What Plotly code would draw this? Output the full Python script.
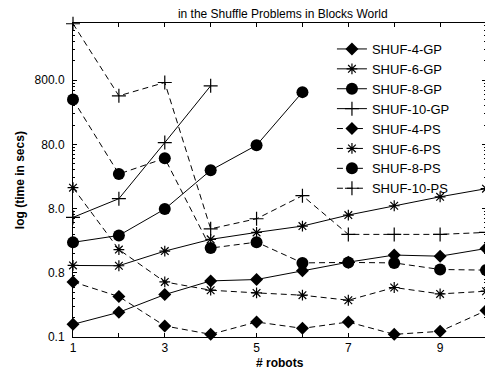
import plotly.graph_objects as go

robots = [1, 2, 3, 4, 5, 6, 7, 8, 9, 10]

shuf4_gp = [0.126, 0.194, 0.366, 0.598, 0.628, 0.857, 1.17, 1.51, 1.45, 1.91]
shuf6_gp = [1.04, 1.03, 1.74, 2.65, 3.40, 4.27, 6.34, 8.85, 12.2, 16.3]
shuf8_gp = [2.38, 3.05, 7.86, 31.5, 77.4, 520]
shuf10_gp = [5.83, 11.4, 85.1, 652]
shuf4_ps = [0.577, 0.341, 0.119, 0.088, 0.137, 0.109, 0.137, 0.088, 0.098, 0.206]
shuf6_ps = [16.9, 1.84, 0.577, 0.428, 0.389, 0.358, 0.299, 0.472, 0.375, 0.413]
shuf8_ps = [398, 27.6, 48.5, 1.94, 2.40, 1.14, 1.16, 1.14, 0.90, 0.88]
shuf10_ps = [6040, 455, 734, 3.87, 5.55, 12.7, 3.17, 3.17, 3.17, 3.40]

y_tick_vals = [0.08, 0.8, 8, 80, 800]
y_tick_text = ["0.1", "0.8", "8.0", "80.0", "800.0"]
x_tick_vals = [1, 2, 3, 4, 5, 6, 7, 8, 9, 10]
x_tick_text = ["1", "", "3", "", "5", "", "7", "", "9", ""]

series = [
    ("SHUF-4-GP", shuf4_gp, "diamond", "solid", 10),
    ("SHUF-6-GP", shuf6_gp, "asterisk-open", "solid", 9),
    ("SHUF-8-GP", shuf8_gp, "circle", "solid", 12),
    ("SHUF-10-GP", shuf10_gp, "cross-thin-open", "solid", 10),
    ("SHUF-4-PS", shuf4_ps, "diamond", "6px,4px", 10),
    ("SHUF-6-PS", shuf6_ps, "asterisk-open", "6px,4px", 9),
    ("SHUF-8-PS", shuf8_ps, "circle", "6px,4px", 12),
    ("SHUF-10-PS", shuf10_ps, "cross-thin-open", "6px,4px", 10),
]

fig = go.Figure()
for name, vals, sym, dash, size in series:
    open_sym = sym.endswith("open")
    fig.add_trace(go.Scatter(
        x=robots[:len(vals)], y=vals, name=name, mode="lines+markers",
        line=dict(color="black", width=1, dash=dash),
        marker=dict(symbol=sym, size=size, color="black",
                    line=dict(color="black", width=1.2 if open_sym else 0)),
        cliponaxis=False,
    ))

minor_vals = []
for n in range(0, 6):
    for k in range(2, 10):
        v = 0.08 * k * (10 ** n)
        if v < 6200:
            minor_vals.append(v)

font = "Liberation Sans, Arial, sans-serif"
fig.update_layout(
    width=485, height=370,
    margin=dict(l=65, r=7, t=15, b=41),
    paper_bgcolor="white", plot_bgcolor="white",
    font=dict(family=font, size=12, color="black"),
    title=dict(text="in the Shuffle Problems in Blocks World", x=0.5665, xanchor="center",
               y=0.995, yanchor="top", pad=dict(t=0), font=dict(size=12)),
    showlegend=True,
    legend=dict(x=0.627, y=0.965, xanchor="left", yanchor="top",
                bgcolor="rgba(0,0,0,0)", font=dict(size=13), itemwidth=30,
                tracegroupgap=0),
    xaxis=dict(range=[1, 10], tickvals=x_tick_vals, ticktext=x_tick_text,
               ticks="inside", ticklen=4, tickcolor="black", showline=True,
               linecolor="black", linewidth=1, mirror="ticks", showgrid=False,
               zeroline=False, tickfont=dict(size=12)),
    yaxis=dict(type="log", range=[-1.0969, 3.7924], tickvals=y_tick_vals,
               ticktext=y_tick_text, ticks="inside", ticklen=4, tickcolor="black",
               showline=True, linecolor="black", linewidth=1, mirror="ticks",
               showgrid=False, zeroline=False, tickfont=dict(size=12),
               ticklabelstandoff=5,
               minor=dict(tickvals=minor_vals, ticks="inside", ticklen=2,
                          tickcolor="black", showgrid=False)),
    annotations=[
        dict(text="<b># robots</b>", xref="paper", yref="paper", x=0.5, y=-0.0835,
             xanchor="center", yanchor="middle", showarrow=False, font=dict(size=12)),
        dict(text="<b>log (time in secs)</b>", xref="paper", yref="paper",
             x=-0.128, y=0.5, xanchor="center", yanchor="middle", textangle=-90,
             showarrow=False, font=dict(size=12)),
    ],
)

fig.write_html("out.html")
